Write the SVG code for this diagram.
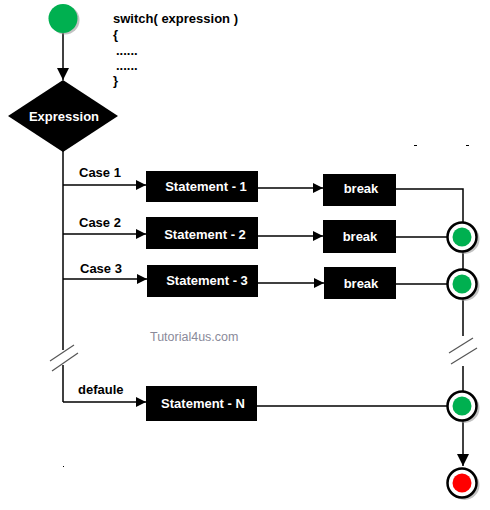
<svg xmlns="http://www.w3.org/2000/svg" width="490" height="510" viewBox="0 0 490 510">
<defs>
<style>
.lbl{font-family:"Liberation Sans",Arial,sans-serif;font-weight:bold;font-size:13px;fill:#000}
.wt{font-family:"Liberation Sans",Arial,sans-serif;font-weight:bold;font-size:13px;fill:#fff;text-anchor:middle}
.box{fill:#000}
.ln{stroke:#000;stroke-width:1.5;fill:none}
.sl{stroke:#555;stroke-width:1.2;fill:none}
.ring{fill:#fff;stroke:#000;stroke-width:2.5}
.shadow{fill:#999;opacity:0.6}
</style>
<marker id="arr" viewBox="0 0 10 10" refX="10" refY="5" markerWidth="10" markerHeight="10" markerUnits="userSpaceOnUse" orient="auto">
<path d="M0,0 L10,5 L0,10 Z" fill="#000"/>
</marker>
<marker id="arrL" viewBox="0 0 12 12" refX="12" refY="6" markerWidth="13" markerHeight="12" markerUnits="userSpaceOnUse" orient="auto">
<path d="M0,0 L12,6 L0,12 Z" fill="#000"/>
</marker>
</defs>
<rect width="490" height="510" fill="#fff"/>

<g id="connectors">
<line class="ln" x1="63" y1="33" x2="63" y2="80" marker-end="url(#arrL)"/>
<line class="ln" x1="63" y1="150" x2="63" y2="350"/>
<line class="ln" x1="63" y1="365" x2="63" y2="402"/>
<line class="sl" x1="50" y1="361" x2="74" y2="345"/>
<line class="sl" x1="52" y1="371" x2="78" y2="353"/>
<line class="ln" x1="63" y1="185" x2="146" y2="185" marker-end="url(#arr)"/>
<line class="ln" x1="63" y1="234" x2="146" y2="234" marker-end="url(#arr)"/>
<line class="ln" x1="63" y1="279" x2="147" y2="279" marker-end="url(#arr)"/>
<line class="ln" x1="63" y1="402" x2="146" y2="402" marker-end="url(#arr)"/>
<line class="ln" x1="258" y1="188" x2="323" y2="188" marker-end="url(#arr)"/>
<line class="ln" x1="258" y1="236" x2="323" y2="236" marker-end="url(#arr)"/>
<line class="ln" x1="258" y1="283" x2="324" y2="283" marker-end="url(#arr)"/>
<polyline class="ln" points="396,189 463,189 463,222"/>
<line class="ln" x1="396" y1="237" x2="447" y2="237"/>
<line class="ln" x1="396" y1="284" x2="447" y2="284"/>
<line class="ln" x1="463" y1="252" x2="463" y2="269"/>
<line class="ln" x1="463" y1="299" x2="463" y2="336"/>
<line class="ln" x1="463" y1="366" x2="463" y2="391"/>
<line class="sl" x1="449" y1="353" x2="473" y2="338"/>
<line class="sl" x1="451" y1="364" x2="477" y2="348"/>
<line class="ln" x1="257" y1="406" x2="447" y2="406"/>
<line class="ln" x1="463" y1="421" x2="463" y2="466" marker-end="url(#arrL)"/>
</g>

<g id="start">
<circle class="shadow" cx="65" cy="20" r="14.5"/>
<circle cx="63" cy="18.5" r="14.5" fill="#00b050"/>
</g>

<g id="code">
<text class="lbl" x="113" y="23">switch( expression )</text>
<text class="lbl" x="113" y="39">{</text>
<text class="lbl" x="116" y="55">......</text>
<text class="lbl" x="116" y="70">......</text>
<text class="lbl" x="113" y="85">}</text>
</g>

<g id="expression">
<polygon points="63,80 118,116 63,152 8,116" fill="#000"/>
<text class="wt" x="64" y="121">Expression</text>
</g>

<g id="case-labels">
<text class="lbl" x="79" y="177">Case 1</text>
<text class="lbl" x="79" y="227">Case 2</text>
<text class="lbl" x="80" y="273">Case 3</text>
<text class="lbl" x="78" y="394">defaule</text>
</g>

<g id="stmt1"><rect class="box" x="146" y="171" width="112" height="31"/><text class="wt" x="206" y="191">Statement - 1</text></g>
<g id="stmt2"><rect class="box" x="146" y="217" width="112" height="32"/><text class="wt" x="205" y="239">Statement - 2</text></g>
<g id="stmt3"><rect class="box" x="147" y="265" width="111" height="32"/><text class="wt" x="207" y="285">Statement - 3</text></g>
<g id="stmtN"><rect class="box" x="146" y="386" width="111" height="35"/><text class="wt" x="203" y="408">Statement - N</text></g>

<g id="break1"><rect class="box" x="323" y="174" width="73" height="32"/><text class="wt" x="361" y="193">break</text></g>
<g id="break2"><rect class="box" x="323" y="220" width="73" height="33"/><text class="wt" x="360" y="241">break</text></g>
<g id="break3"><rect class="box" x="324" y="267" width="72" height="32"/><text class="wt" x="361" y="288">break</text></g>

<g id="merge1"><circle class="shadow" cx="464.5" cy="239" r="15"/><circle class="ring" cx="462" cy="237" r="14.5"/><circle cx="462" cy="237" r="9.5" fill="#00b050"/></g>
<g id="merge2"><circle class="shadow" cx="464.5" cy="286" r="15"/><circle class="ring" cx="462" cy="284" r="14.5"/><circle cx="462" cy="284" r="9.5" fill="#00b050"/></g>
<g id="merge3"><circle class="shadow" cx="464.5" cy="408" r="15"/><circle class="ring" cx="462" cy="406" r="14.5"/><circle cx="462" cy="406" r="9.5" fill="#00b050"/></g>
<g id="end"><circle class="shadow" cx="464.5" cy="485" r="15"/><circle class="ring" cx="462" cy="483" r="14.5"/><circle cx="462" cy="483" r="9.5" fill="#ff0000"/></g>

<text x="150" y="341" font-family="'Liberation Sans',Arial,sans-serif" font-size="12.5" fill="#8a8a9a">Tutorial4us.com</text>

<g id="marks">
<rect x="414" y="145" width="3" height="1" fill="#000"/>
<rect x="466" y="145" width="3" height="1" fill="#000"/>
<rect x="63" y="466" width="1" height="1" fill="#000"/>
</g>
</svg>
